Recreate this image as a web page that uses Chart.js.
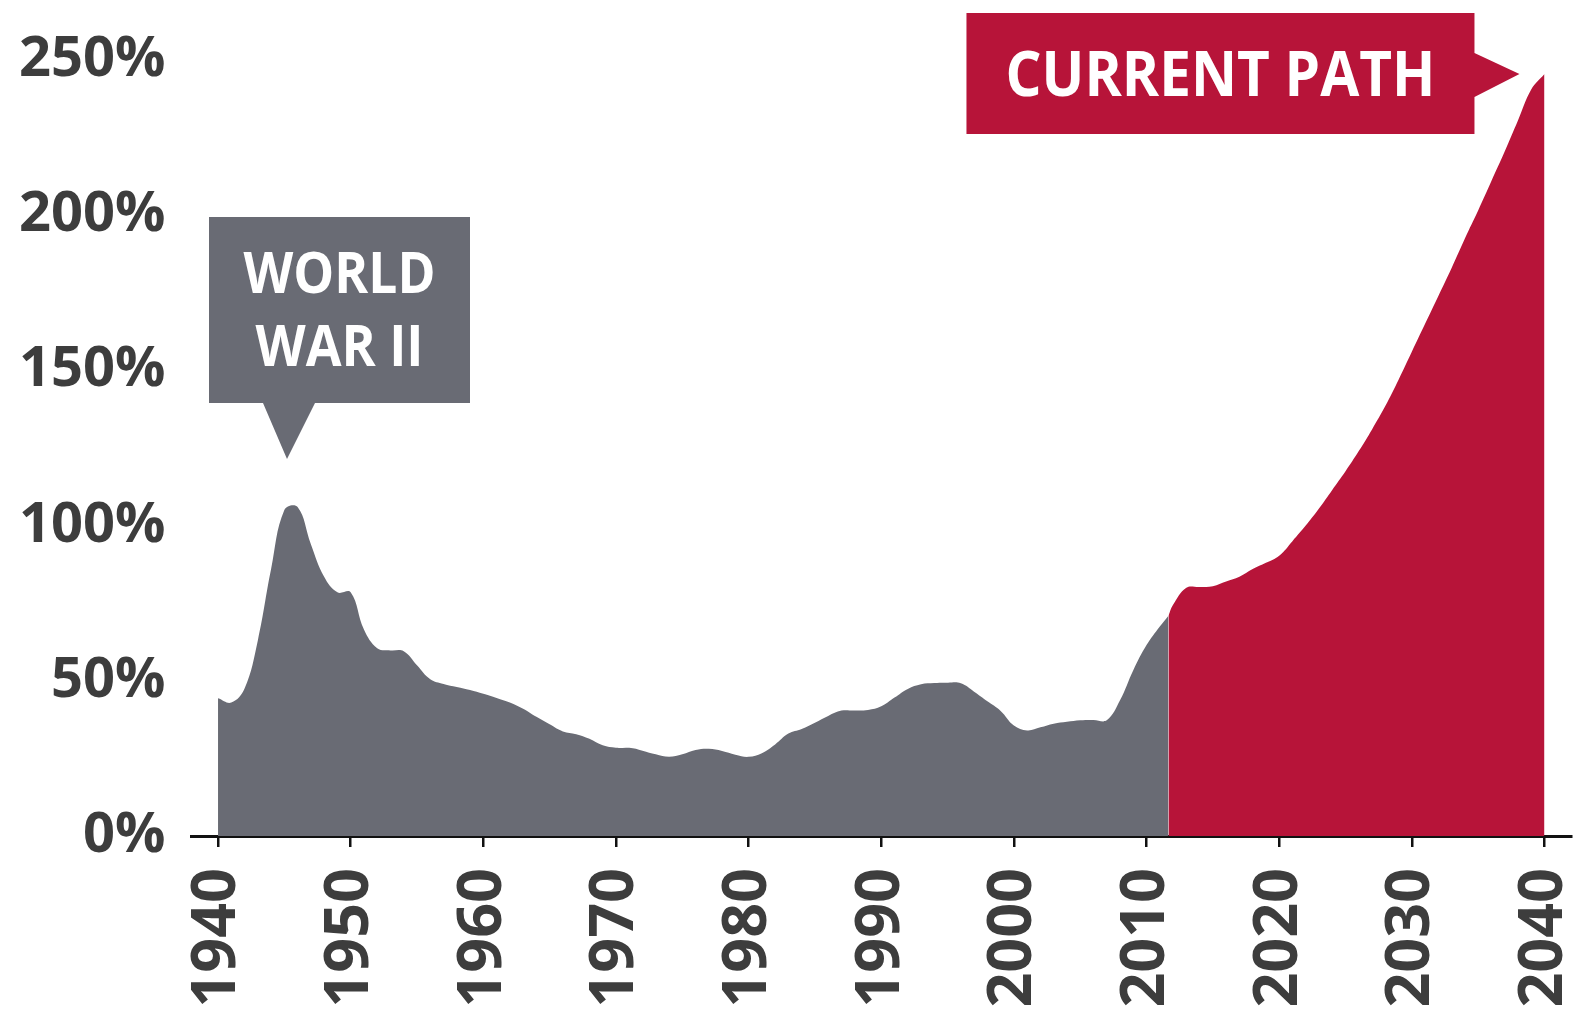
<!DOCTYPE html>
<html>
<head>
<meta charset="utf-8">
<style>
html,body{margin:0;padding:0;background:#ffffff;}
#c{display:block;}
</style>
<script src="https://cdn.jsdelivr.net/npm/chart.js@4/dist/chart.umd.min.js"></script>
</head>
<body>
<canvas id="c" width="1577" height="1020"></canvas>
<script>
// ---- data ----
const histYears = [1940,1941,1942,1943,1944,1945,1946,1947,1948,1949,
  1950,1951,1952,1953,1954,1955,1956,1957,1958,1959,
  1960,1961,1962,1963,1964,1965,1966,1967,1968,1969,
  1970,1971,1972,1973,1974,1975,1976,1977,1978,1979,
  1980,1981,1982,1983,1984,1985,1986,1987,1988,1989,
  1990,1991,1992,1993,1994,1995,1996,1997,1998,1999,
  2000,2001,2002,2003,2004,2005,2006,2007,2008,2009,
  2010,2011,2011.65];
const histValues = [44.4,43,47.5,63,86,105,106,94,83.5,78.5,
  78.5,66.5,60.5,59.8,59.5,55,50.5,49,48,47,
  45.8,44.5,43,41,38.4,36,33.7,32.8,31.3,29.2,
  28.4,28.4,27.5,26.3,25.5,26.3,27.7,28.1,27.4,26.2,
  25.5,26.7,29.5,33,34.5,36.5,38.7,40.4,40.4,40.6,
  41.8,44.6,47.4,48.9,49.3,49.4,49.2,46.5,43.4,40.3,
  35.6,34,35,36.2,36.8,37.3,37.4,37.3,43.7,53.4,
  61.5,67.5,71];
const projYears = [2011.65,2012,2013,2014,2015,2016,2017,2018,2019,
  2020,2021,2022,2023,2024,2025,2026,2027,2028,2029,
  2030,2031,2032,2033,2034,2035,2036,2037,2038,2039,2040];
const projValues = [71,74.5,80,80.2,80.5,82,83.5,86,88,
  90.3,95,100,105.5,111.5,117.5,124,131,138.5,147,
  156,165,174,183,192.5,201.5,211,220.5,230.5,240.5,245.5];
const xTicks = [1940,1950,1960,1970,1980,1990,2000,2010,2020,2030,2040];
const yTicks = [0,50,100,150,200,250];
const wwiiLabel = ['WORLD','WAR II'];
const pathLabel = 'CURRENT PATH';
const wwiiTip = {year: 1945.2, value: 121.5};

const GRAY = '#696b74';
const RED = '#b71439';
const TEXT = '#3d3d3d';
const FONT = '"Open Sans", "DejaVu Sans", sans-serif';

function fitText(ctx, text, cx, baseline, size, targetW) {
  ctx.font = 'bold ' + size + 'px ' + FONT;
  const w = ctx.measureText(text).width;
  const s = Math.min(1, targetW / w);
  ctx.save();
  ctx.translate(cx, baseline);
  ctx.scale(s, 1);
  ctx.textAlign = 'center';
  ctx.textBaseline = 'alphabetic';
  ctx.fillText(text, 0, 0);
  ctx.restore();
}

const calloutPlugin = {
  id: 'callouts',
  afterDraw(chart) {
    const ctx = chart.ctx;
    const xs = chart.scales.x, ys = chart.scales.y;
    ctx.save();
    // World War II callout
    const tx = xs.getPixelForValue(wwiiTip.year);
    const ty = ys.getPixelForValue(wwiiTip.value);
    const L = tx - 78, R = tx + 183, T = ty - 242, B = ty - 56;
    ctx.fillStyle = GRAY;
    ctx.beginPath();
    ctx.moveTo(L, T); ctx.lineTo(R, T); ctx.lineTo(R, B);
    ctx.lineTo(tx + 28, B); ctx.lineTo(tx, ty); ctx.lineTo(tx - 24, B);
    ctx.lineTo(L, B); ctx.closePath(); ctx.fill();
    ctx.fillStyle = '#ffffff';
    const cx = (L + R) / 2;
    fitText(ctx, wwiiLabel[0], cx, ty - 166, 57, 192);
    fitText(ctx, wwiiLabel[1], cx, ty - 93, 57, 168);

    // Current path callout
    const lastYear = projYears[projYears.length - 1];
    const lastVal = projValues[projValues.length - 1];
    const px = xs.getPixelForValue(lastYear) - 25;
    const py = ys.getPixelForValue(lastVal);
    const L2 = px - 553, R2 = px - 45, T2 = py - 61, B2 = py + 60;
    ctx.fillStyle = RED;
    ctx.beginPath();
    ctx.moveTo(L2, T2); ctx.lineTo(R2, T2); ctx.lineTo(R2, py - 21);
    ctx.lineTo(px, py); ctx.lineTo(R2, py + 23); ctx.lineTo(R2, B2);
    ctx.lineTo(L2, B2); ctx.closePath(); ctx.fill();
    ctx.fillStyle = '#ffffff';
    fitText(ctx, pathLabel, (L2 + R2) / 2, py + 22, 62, 430);
    ctx.restore();
  }
};

function noPad(s) {
  s.paddingTop = 0; s.paddingBottom = 0; s.paddingLeft = 0; s.paddingRight = 0;
}

new Chart(document.getElementById('c'), {
  type: 'line',
  data: {
    datasets: [
      {
        data: histYears.map((x, i) => ({x: x, y: histValues[i]})),
        backgroundColor: GRAY,
        borderWidth: 0,
        borderColor: 'rgba(0,0,0,0)',
        fill: 'origin',
        pointRadius: 0,
        tension: 0.4
      },
      {
        data: projYears.map((x, i) => ({x: x, y: projValues[i]})),
        backgroundColor: RED,
        borderWidth: 0,
        borderColor: 'rgba(0,0,0,0)',
        fill: 'origin',
        pointRadius: 0,
        tension: 0.4
      }
    ]
  },
  options: {
    responsive: false,
    animation: false,
    devicePixelRatio: 1,
    layout: {padding: {top: 29, right: 6, left: 0, bottom: 0}},
    plugins: {legend: {display: false}, tooltip: {enabled: false}},
    scales: {
      x: {
        type: 'linear',
        min: 1938,
        max: 2042,
        afterBuildTicks: s => { s.ticks = xTicks.map(v => ({value: v})); },
        afterFit: s => { s.height = 184; noPad(s); },
        ticks: {
          autoSkip: false,
          minRotation: 90,
          maxRotation: 90,
          padding: 21,
          color: TEXT,
          font: {family: FONT, weight: 'bold', size: 61},
          callback: v => String(v)
        },
        grid: {drawOnChartArea: false, drawTicks: true, tickLength: 11, color: '#111111', lineWidth: 2.5},
        border: {display: true, color: '#111111', width: 3}
      },
      y: {
        min: 0,
        max: 260,
        afterBuildTicks: s => { s.ticks = yTicks.map(v => ({value: v})); },
        afterFit: s => { s.width = 191.5; noPad(s); },
        ticks: {
          padding: 18,
          color: TEXT,
          font: {family: FONT, weight: 'bold', size: 56},
          callback: v => v + '%'
        },
        grid: {display: false},
        border: {display: false}
      }
    }
  },
  plugins: [calloutPlugin]
});
</script>
</body>
</html>
